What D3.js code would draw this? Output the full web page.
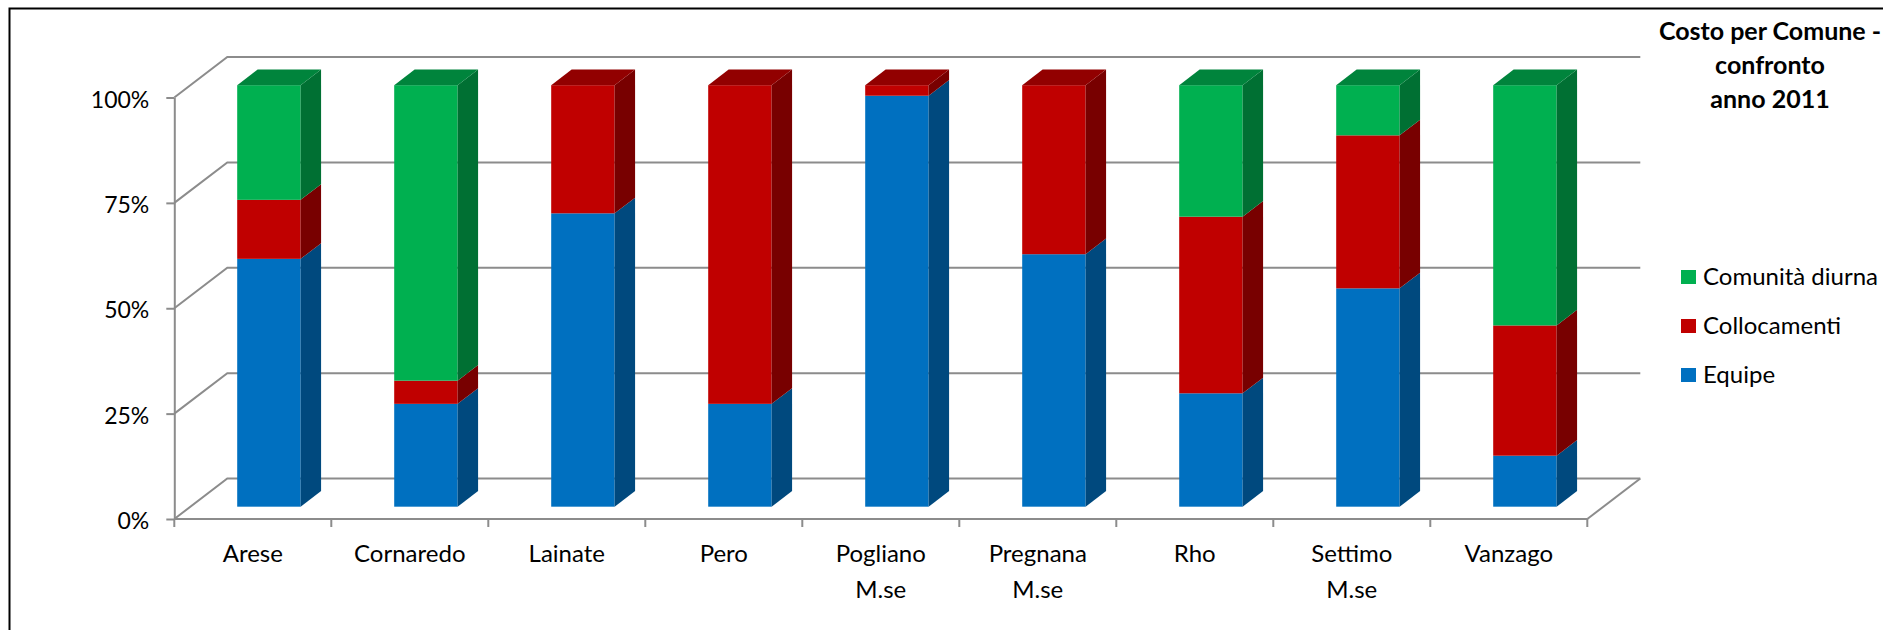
<!DOCTYPE html>
<html>
<head>
<meta charset="utf-8">
<script src="https://cdn.jsdelivr.net/npm/d3@7/dist/d3.min.js"></script>
<style>
  html, body { margin: 0; padding: 0; background: #fff; }
  svg { display: block; }
  text { font-family: Lato, "Open Sans", sans-serif; fill: #000; }
</style>
</head>
<body>
<svg id="chart" width="1883" height="630"></svg>
<script>
// Share of cost per municipality, 2011 (fractions of 100%)
const categories = ["Arese", "Cornaredo", "Lainate", "Pero", "Pogliano M.se",
                    "Pregnana M.se", "Rho", "Settimo M.se", "Vanzago"];
const equipe       = [0.588, 0.244, 0.696, 0.244, 0.975, 0.599, 0.269, 0.518, 0.121];
const collocamenti = [0.140, 0.055, 0.304, 0.756, 0.025, 0.401, 0.419, 0.363, 0.309];
const comunita     = [0.272, 0.701, 0.000, 0.000, 0.000, 0.000, 0.312, 0.119, 0.570];
const seriesKeys   = ["Equipe", "Collocamenti", "Comunità diurna"];
const legendOrder  = ["Comunità diurna", "Collocamenti", "Equipe"];
const yTicks       = [0, 0.25, 0.5, 0.75, 1];
const titleLines   = ["Costo per Comune -", "confronto", "anno 2011"];

// face colours: front, side, top
const palette = {
  "Equipe":          { front: "#0070C0", side: "#00497E", top: "#00599A" },
  "Collocamenti":    { front: "#C00000", side: "#780000", top: "#920000" },
  "Comunità diurna": { front: "#00B050", side: "#007033", top: "#00843C" }
};

const rows = categories.map((c, i) => ({
  cat: c,
  "Equipe": equipe[i],
  "Collocamenti": collocamenti[i],
  "Comunità diurna": comunita[i]
}));
const stacked = d3.stack().keys(seriesKeys)(rows);

const svg = d3.select("#chart");

// outer frame
svg.append("rect")
  .attr("x", 9.5).attr("y", 8.5)
  .attr("width", 1900).attr("height", 640)
  .attr("fill", "none").attr("stroke", "#000").attr("stroke-width", 2);

// oblique depth projection
const DX = 53, DY = -40.5;
const z0 = 0.304, z1 = 0.69;

const x = d3.scaleBand().domain(categories).range([174.3, 1587.3]).padding(0);
const y = d3.scaleLinear().domain([0, 1]).range([519, 97.5]);
const barW = x.bandwidth() * 0.404;

const gridColor = "#8c8c8c";
const grid = svg.append("g").attr("fill", "none").attr("stroke", gridColor).attr("stroke-width", 2);

// side-wall diagonals and back-wall horizontals
yTicks.forEach(v => {
  const yy = y(v);
  grid.append("path")
    .attr("d", `M${x.range()[0]},${yy}L${x.range()[0] + DX},${yy + DY}L${x.range()[1] + DX},${yy + DY}`);
});
// floor right edge
grid.append("path")
  .attr("d", `M${x.range()[1]},${y(0)}L${x.range()[1] + DX},${y(0) + DY}`);

// value axis
const yAxis = d3.axisLeft(y)
  .tickValues(yTicks)
  .tickFormat(d3.format(".0%"))
  .tickSize(8)
  .tickSizeOuter(0)
  .tickPadding(17);
const gy = svg.append("g").attr("transform", `translate(${x.range()[0]},0)`).call(yAxis);
gy.select(".domain").attr("stroke", gridColor).attr("stroke-width", 2);
gy.selectAll(".tick line").attr("stroke", gridColor).attr("stroke-width", 2);
gy.selectAll(".tick text")
  .attr("font-size", 23).attr("font-family", "Lato").attr("fill", "#000")
  .attr("dy", "0.42em");

// category axis: floor front edge, boundary ticks
const gx = svg.append("g");
gx.append("line")
  .attr("x1", x.range()[0]).attr("x2", x.range()[1])
  .attr("y1", y(0)).attr("y2", y(0))
  .attr("stroke", gridColor).attr("stroke-width", 2);
const boundaries = categories.map(c => x(c)).concat([x.range()[1]]);
gx.selectAll("line.tk").data(boundaries).join("line")
  .attr("class", "tk")
  .attr("x1", d => d).attr("x2", d => d)
  .attr("y1", y(0)).attr("y2", y(0) + 8)
  .attr("stroke", gridColor).attr("stroke-width", 2);

const labels = gx.selectAll("text.cat").data(categories).join("text")
  .attr("class", "cat")
  .attr("text-anchor", "middle")
  .attr("font-size", 24)
  .attr("x", d => x(d) + x.bandwidth() / 2)
  .attr("y", 562);
labels.each(function (d) {
  const parts = d.split(" ");
  const t = d3.select(this);
  parts.forEach((p, i) => {
    t.append("tspan")
      .attr("x", x(d) + x.bandwidth() / 2)
      .attr("dy", i === 0 ? 0 : 36)
      .text(p);
  });
});

// 3D stacked bars
const bars = svg.append("g");
const fx = z0 * DX, fy = z0 * DY;               // front-face offset
const sx = (z1 - z0) * DX, sy = (z1 - z0) * DY; // bar depth

stacked.forEach(layer => {
  const key = layer.key;
  const col = palette[key];
  const g = bars.append("g");
  layer.forEach((seg, i) => {
    const v0 = seg[0], v1 = seg[1];
    if (v1 - v0 <= 0) return;
    const cat = categories[i];
    const xl = x(cat) + (x.bandwidth() - barW) / 2 + fx;
    const xr = xl + barW;
    const yb = y(v0) + fy, yt = y(v1) + fy;
    // front face
    g.append("rect")
      .attr("x", xl).attr("y", yt)
      .attr("width", barW).attr("height", yb - yt)
      .attr("fill", col.front);
    // side face
    g.append("path")
      .attr("d", `M${xr},${yb}L${xr + sx},${yb + sy}L${xr + sx},${yt + sy}L${xr},${yt}Z`)
      .attr("fill", col.side);
    // top face on the highest non-empty segment
    if (Math.abs(v1 - 1) < 1e-6) {
      g.append("path")
        .attr("d", `M${xl},${yt}L${xl + sx},${yt + sy}L${xr + sx},${yt + sy}L${xr},${yt}Z`)
        .attr("fill", col.top);
    }
  });
});

// legend
const legend = svg.append("g");
legendOrder.forEach((k, i) => {
  const cy = 277 + i * 49;
  legend.append("rect")
    .attr("x", 1681).attr("y", cy - 7)
    .attr("width", 15).attr("height", 14)
    .attr("fill", palette[k].front);
  legend.append("text")
    .attr("x", 1703).attr("y", cy + 8)
    .attr("font-size", 24)
    .text(k);
});

// title
const title = svg.append("text")
  .attr("text-anchor", "middle")
  .attr("font-size", 25)
  .attr("font-weight", "bold");
titleLines.forEach((line, i) => {
  title.append("tspan")
    .attr("x", 1770)
    .attr("y", 39.5 + i * 34)
    .text(line);
});
</script>
</body>
</html>
